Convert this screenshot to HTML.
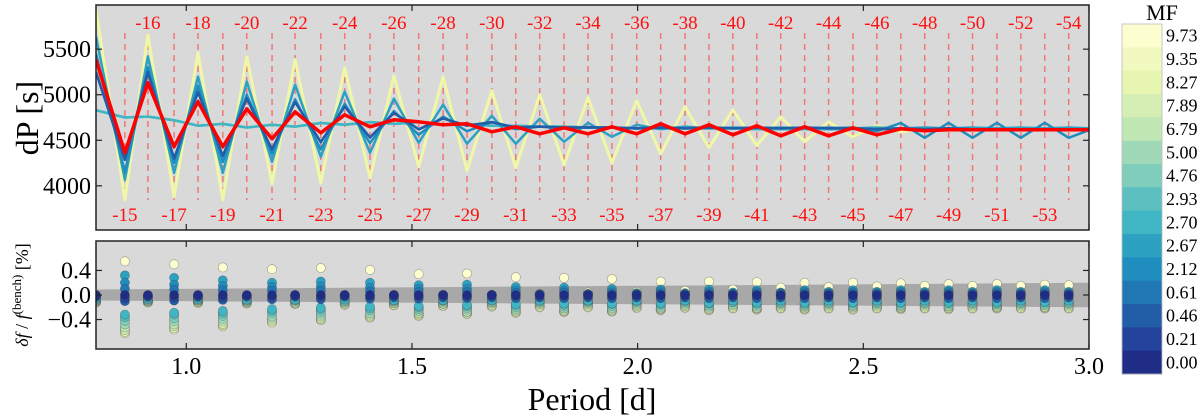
<!DOCTYPE html>
<html><head><meta charset="utf-8"><style>
html,body{margin:0;padding:0;background:#fff;}
svg{display:block;font-family:"Liberation Serif","DejaVu Serif",serif;}
</style></head><body>
<svg id="chart" width="1200" height="419" viewBox="0 0 1200 419" xmlns="http://www.w3.org/2000/svg">
<rect x="96" y="5" width="993" height="225" fill="#d9d9d9"/>
<rect x="96" y="241" width="993" height="108" fill="#d9d9d9"/>
<g id="topPanel"></g>
<g id="botPanel"></g>
<rect x="96" y="5" width="993" height="225" fill="none" stroke="#222" stroke-width="1.5"/>
<rect x="96" y="241" width="993" height="108" fill="none" stroke="#222" stroke-width="1.5"/>
<g id="axesG"></g>
<text transform="translate(38,118) rotate(-90)" text-anchor="middle" font-size="32">dP [s]</text>
<text transform="translate(28,295) rotate(-90)" text-anchor="middle" font-size="18"><tspan font-style="italic">δf</tspan> / <tspan font-style="italic">f</tspan><tspan font-size="13" dy="-7">(bench)</tspan><tspan dy="7"> [%]</tspan></text>
<text x="592" y="410" text-anchor="middle" font-size="32">Period [d]</text>
<g id="cbarG"></g>
<text x="1162" y="20" text-anchor="middle" font-size="22">MF</text>
</svg>
<script>
const orders=[-14,-15,-16,-17,-18,-19,-20,-21,-22,-23,-24,-25,-26,-27,-28,-29,-30,-31,-32,-33,-34,-35,-36,-37,-38,-39,-40,-41,-42,-43,-44,-45,-46,-47,-48,-49,-50,-51,-52,-53,-54,-55];
const periods=[0.800,0.864,0.915,0.973,1.026,1.081,1.134,1.190,1.241,1.298,1.351,1.407,1.460,1.515,1.569,1.622,1.677,1.730,1.783,1.837,1.890,1.943,1.998,2.051,2.105,2.158,2.211,2.264,2.317,2.370,2.423,2.477,2.530,2.583,2.636,2.689,2.742,2.796,2.849,2.902,2.955,3.005];
const mfLabels=["9.73","9.35","8.27","7.89","6.79","5.00","4.76","2.93","2.70","2.67","2.12","0.61","0.46","0.21","0.00"];
const mfColors=["#fcfed0","#f2f9c0","#e6f5b0","#d5eeb3","#c1e7b5","#a0d9b8","#7fcdbb","#5dc0c0","#40b5c4","#2ca1c2","#1f8ebf","#2176b4","#225ea8","#23439c","#1f2d86"];
const lineColors=["#f0f7a6","#f2f9c0","#e6f5b0","#d5eeb3","#c1e7b5","#a0d9b8","#7fcdbb","#5dc0c0","#40b5c4","#2ca1c2","#1f8ebf","#2176b4","#225ea8","#23439c","#1f2d86"];
const dpY=[5934,3846,5659,3879,5462,3846,5418,4022,5385,4033,5297,4088,5209,4209,5198,4165,5044,4198,5000,4231,4967,4253,4934,4352,4868,4418,4835,4440,4758,4484,4703,4538,4660,4590,4630,4610,4625,4615,4640,4610,4630,4620];
const dpF=[4830,4750,4760,4720,4660,4680,4640,4670,4650,4690,4670,4700,4680,4700,4670,4680,4660,4660,4650,4650,4640,4640,4630,4630,4630,4630,4630,4620,4620,4620,4620,4620,4620,4620,4620,4620,4620,4620,4620,4620,4620,4620];
const dpB=[5637,4066,5418,4143,5198,4143,5143,4264,5110,4319,5033,4363,4956,4473,4890,4462,4769,4462,4736,4484,4692,4538,4670,4620,4650,4630,4640,4630,4640,4630,4640,4630,4640,4630,4640,4630,4640,4630,4640,4630,4640,4630];
const dpB2=[5450,4150,5300,4250,5100,4260,5000,4350,4950,4400,4900,4470,4820,4560,4760,4600,4700,4620,4650,4630,4640,4640,4630,4640,4630,4640,4630,4640,4630,4640,4630,4640,4600,4690,4527,4692,4527,4692,4527,4692,4527,4620];
const dpD=[5250,4286,5250,4300,5030,4330,4960,4400,4920,4480,4870,4530,4800,4620,4740,4660,4700,4640,4650,4640,4640,4640,4630,4640,4630,4640,4630,4640,4630,4640,4630,4630,4620,4630,4620,4630,4620,4620,4620,4620,4620,4620];
const dpBench=[5385,4363,5132,4429,4923,4429,4846,4516,4813,4582,4780,4648,4725,4703,4670,4681,4593,4648,4571,4637,4571,4648,4571,4681,4571,4670,4560,4659,4549,4648,4549,4637,4560,4626,4604,4615,4615,4615,4615,4615,4615,4615];
const lineSeries=[dpY,dpF,dpF,dpF,dpF,dpF,dpF,dpF,dpF,dpB,dpB2,dpD,dpD,dpBench,dpBench];
const dfOdd=[
[.55,.50,.45,.42,.44,.41,.34,.35,.29,.28,.26,.22,.22,.21,.20,.20,.19,.18,.18,.17],
[-.62,-.56,-.51,-.45,-.41,-.37,-.34,-.31,-.29,-.28,-.27,-.25,-.25,-.24,-.24,-.24,-.23,-.23,-.22,-.22],
[-.60,-.54,-.49,-.43,-.40,-.36,-.33,-.30,-.28,-.27,-.26,-.24,-.24,-.23,-.23,-.23,-.22,-.22,-.21,-.21],
[-.57,-.51,-.47,-.41,-.38,-.34,-.31,-.28,-.27,-.26,-.25,-.23,-.23,-.22,-.22,-.21,-.21,-.21,-.20,-.20],
[-.53,-.48,-.43,-.38,-.35,-.32,-.29,-.27,-.25,-.24,-.23,-.22,-.21,-.21,-.20,-.20,-.20,-.19,-.19,-.19],
[-.48,-.43,-.39,-.35,-.32,-.29,-.26,-.24,-.23,-.22,-.21,-.20,-.19,-.19,-.18,-.18,-.18,-.18,-.17,-.17],
[-.42,-.38,-.34,-.30,-.28,-.25,-.23,-.21,-.20,-.19,-.18,-.17,-.17,-.16,-.16,-.16,-.16,-.15,-.15,-.15],
[-.36,-.32,-.30,-.26,-.24,-.22,-.20,-.18,-.17,-.16,-.15,-.15,-.14,-.14,-.14,-.13,-.13,-.13,-.13,-.12],
[-.32,-.29,-.26,-.23,-.21,-.19,-.18,-.16,-.15,-.14,-.14,-.13,-.13,-.12,-.12,-.12,-.12,-.11,-.11,-.11],
[.32,.28,.24,.20,.22,.20,.16,.17,.13,.12,.10,.09,.09,.08,.08,.08,.08,.08,.08,.08],
[.20,.17,.15,.13,.14,.12,.10,.10,.08,.07,.06,.06,.05,.05,.05,.05,.05,.05,.05,.05],
[.10,.09,.08,.07,.07,.06,.05,.05,.04,.04,.03,.03,.03,.03,.03,.03,.03,.03,.03,.03],
[-.10,-.09,-.08,-.07,-.07,-.06,-.06,-.05,-.05,-.05,-.05,-.05,-.05,-.05,-.05,-.05,-.05,-.05,-.05,-.05],
[-.05,-.04,-.04,-.03,-.03,-.02,-.02,-.02,-.01,-.01,-.01,0,0,0,0,0,0,0,0,0],
[0,0,0,0,0,0,0,0,0,0,0,0,0,0,0,0,0,0,0,0]];
const dfEven=[
[-.12,-.12,-.12,-.10,-.08,-.06,-.04,-.02,0,.02,.04,.05,.07,.09,.12,.13,.14,.15,.15,.15,.16],
[-.12,-.12,-.13,-.14,-.15,-.16,-.17,-.18,-.19,-.20,-.20,-.21,-.21,-.22,-.22,-.22,-.22,-.22,-.22,-.22,-.22],
[-.11,-.11,-.12,-.13,-.14,-.15,-.16,-.17,-.18,-.19,-.19,-.20,-.20,-.21,-.21,-.21,-.21,-.21,-.21,-.21,-.21],
[-.10,-.10,-.11,-.12,-.13,-.14,-.14,-.15,-.16,-.17,-.17,-.18,-.18,-.19,-.19,-.19,-.19,-.19,-.19,-.19,-.19],
[-.10,-.10,-.10,-.11,-.12,-.12,-.13,-.14,-.14,-.15,-.15,-.16,-.16,-.17,-.17,-.17,-.17,-.17,-.17,-.17,-.17],
[-.09,-.09,-.09,-.10,-.10,-.11,-.11,-.12,-.12,-.13,-.13,-.14,-.14,-.15,-.15,-.15,-.15,-.15,-.15,-.15,-.15],
[-.08,-.08,-.08,-.09,-.09,-.10,-.10,-.10,-.11,-.11,-.11,-.12,-.12,-.12,-.13,-.13,-.13,-.13,-.13,-.13,-.13],
[-.07,-.07,-.07,-.08,-.08,-.08,-.09,-.09,-.09,-.10,-.10,-.10,-.10,-.11,-.11,-.11,-.11,-.11,-.11,-.11,-.11],
[-.06,-.06,-.06,-.07,-.07,-.07,-.08,-.08,-.08,-.08,-.09,-.09,-.09,-.09,-.09,-.09,-.09,-.09,-.09,-.09,-.09],
[-.03,-.03,-.03,-.02,-.02,-.01,-.01,0,0,.01,.02,.03,.03,.04,.04,.05,.05,.05,.05,.05,.05],
[-.02,-.02,-.02,-.02,-.01,-.01,0,0,0,.01,.01,.02,.02,.02,.03,.03,.03,.03,.03,.03,.03],
[-.01,-.01,-.01,-.01,0,0,0,0,0,.01,.01,.01,.02,.02,.02,.02,.02,.02,.02,.02,.02],
[-.03,-.03,-.03,-.03,-.03,-.03,-.04,-.04,-.04,-.04,-.04,-.04,-.04,-.04,-.04,-.04,-.04,-.04,-.04,-.04,-.04],
[-.01,-.01,-.01,-.01,-.01,-.01,-.01,-.01,-.01,-.01,-.01,-.01,-.01,-.01,-.01,-.01,-.01,-.01,-.01,-.01,-.01],
[0,0,0,0,0,0,0,0,0,0,0,0,0,0,0,0,0,0,0,0,0]];
const bandP=[0.8,3.0];
const bandHalf=[0.09,0.20];
const xTicks=[1.0,1.5,2.0,2.5,3.0];
const xTickLabels=["1.0","1.5","2.0","2.5","3.0"];
const yTopTicks=[4000,4500,5000,5500];
const yBotTicks=[-0.4,0,0.4];
const yBotLabels=["\u22120.4","0.0","0.4"];

const NS="http://www.w3.org/2000/svg";
const X=p=>96+(p-0.8)/(3.0-0.8)*993;
const YT=v=>5+(5985-v)/(5985-3515)*225;
const YB=v=>241+(0.88-v)/1.76*108;
function mk(tag,at,par){const e=document.createElementNS(NS,tag);for(const k in at)e.setAttribute(k,at[k]);par.appendChild(e);return e;}
const topG=document.getElementById('topPanel'),botG=document.getElementById('botPanel'),axesG=document.getElementById('axesG'),cbarG=document.getElementById('cbarG');

for(let i=1;i<orders.length-1;i++){
  const x=X(periods[i]);
  const l=mk('line',{x1:x,x2:x,y1:33,y2:200,stroke:'#f07878','stroke-width':1.5,'stroke-dasharray':'6,5'},topG);
  
  
  const even=orders[i]%2===0;
  const t=mk('text',{x:x,y:even?29:221,'text-anchor':'middle','font-size':19,fill:'#ff1010'},topG);
  
  
  t.textContent=String(orders[i]);
}
const defs=mk('defs',{},topG);
const clip=mk('clipPath',{id:'cp'},defs);mk('rect',{x:96,y:5,width:993,height:225},clip);
const clip2=mk('clipPath',{id:'cp2'},defs);mk('rect',{x:96,y:241,width:993,height:108},clip2);
const lg=mk('g',{'clip-path':'url(#cp)'},topG);
for(let s=0;s<lineSeries.length;s++){
  const d=lineSeries[s].map((v,i)=>(i?'L':'M')+X(periods[i]).toFixed(1)+','+YT(v).toFixed(1)).join('');
  const p=mk('path',{d:d,fill:'none',stroke:lineColors[s],'stroke-width':s===0?3:2.5,'stroke-linejoin':'round'},lg);
  
  
}
const rp=mk('path',{d:dpBench.map((v,i)=>(i?'L':'M')+X(periods[i]).toFixed(1)+','+YT(v).toFixed(1)).join(''),fill:'none',stroke:'#ff0000','stroke-width':3.5,'stroke-linejoin':'round'},lg);



const band=mk('polygon',{points:[X(bandP[0])+','+YB(bandHalf[0]),X(bandP[1])+','+YB(bandHalf[1]),X(bandP[1])+','+YB(-bandHalf[1]),X(bandP[0])+','+YB(-bandHalf[0])].join(' '),fill:'#a8a8a8'},botG);


const dg=mk('g',{'clip-path':'url(#cp2)'},botG);
for(let s=0;s<mfColors.length;s++){
  for(let i=0;i<orders.length-1;i++){
    const even=orders[i]%2===0;
    const idx=even?(i/2):((i-1)/2);
    const v=even?dfEven[s][idx]:dfOdd[s][idx];
    const c=mk('circle',{cx:X(periods[i]).toFixed(1),cy:YB(v).toFixed(1),r:4.6,fill:mfColors[s],stroke:'rgba(60,60,60,0.45)','stroke-width':0.6},dg);
    
    
  }
}
xTicks.forEach((t,i)=>{
  const x=X(t);
  [[230,224],[5,11],[349,343],[241,247]].forEach(a=>mk('line',{x1:x,x2:x,y1:a[0],y2:a[1],stroke:'#222','stroke-width':1.2},axesG));
  const tx=mk('text',{x:x,y:374,'text-anchor':'middle','font-size':24},axesG);
  
  
  tx.textContent=xTickLabels[i];
});
yTopTicks.forEach(t=>{
  const y=YT(t);
  mk('line',{x1:96,x2:102,y1:y,y2:y,stroke:'#222','stroke-width':1.2},axesG);
  mk('line',{x1:1089,x2:1083,y1:y,y2:y,stroke:'#222','stroke-width':1.2},axesG);
  const tx=mk('text',{x:91,y:y+8,'text-anchor':'end','font-size':24},axesG);
  
  
  tx.textContent=String(t);
});
yBotTicks.forEach((t,i)=>{
  const y=YB(t);
  mk('line',{x1:96,x2:102,y1:y,y2:y,stroke:'#222','stroke-width':1.2},axesG);
  mk('line',{x1:1089,x2:1083,y1:y,y2:y,stroke:'#222','stroke-width':1.2},axesG);
  const tx=mk('text',{x:91,y:y+8,'text-anchor':'end','font-size':24},axesG);
  
  
  tx.textContent=yBotLabels[i];
});
const segH=350/mfColors.length;
mfColors.forEach((c,i)=>{
  const r=mk('rect',{x:1122,y:24+i*segH,width:40,height:segH+0.5,fill:c},cbarG);
  
  
  const t=mk('text',{x:1166,y:24+i*segH+segH/2+6,'font-size':18},cbarG);
  
  
  t.textContent=mfLabels[i];
});
mk('rect',{x:1122,y:24,width:40,height:350,fill:'none',stroke:'#bbb','stroke-width':0.8},cbarG);
</script>
</body></html>
